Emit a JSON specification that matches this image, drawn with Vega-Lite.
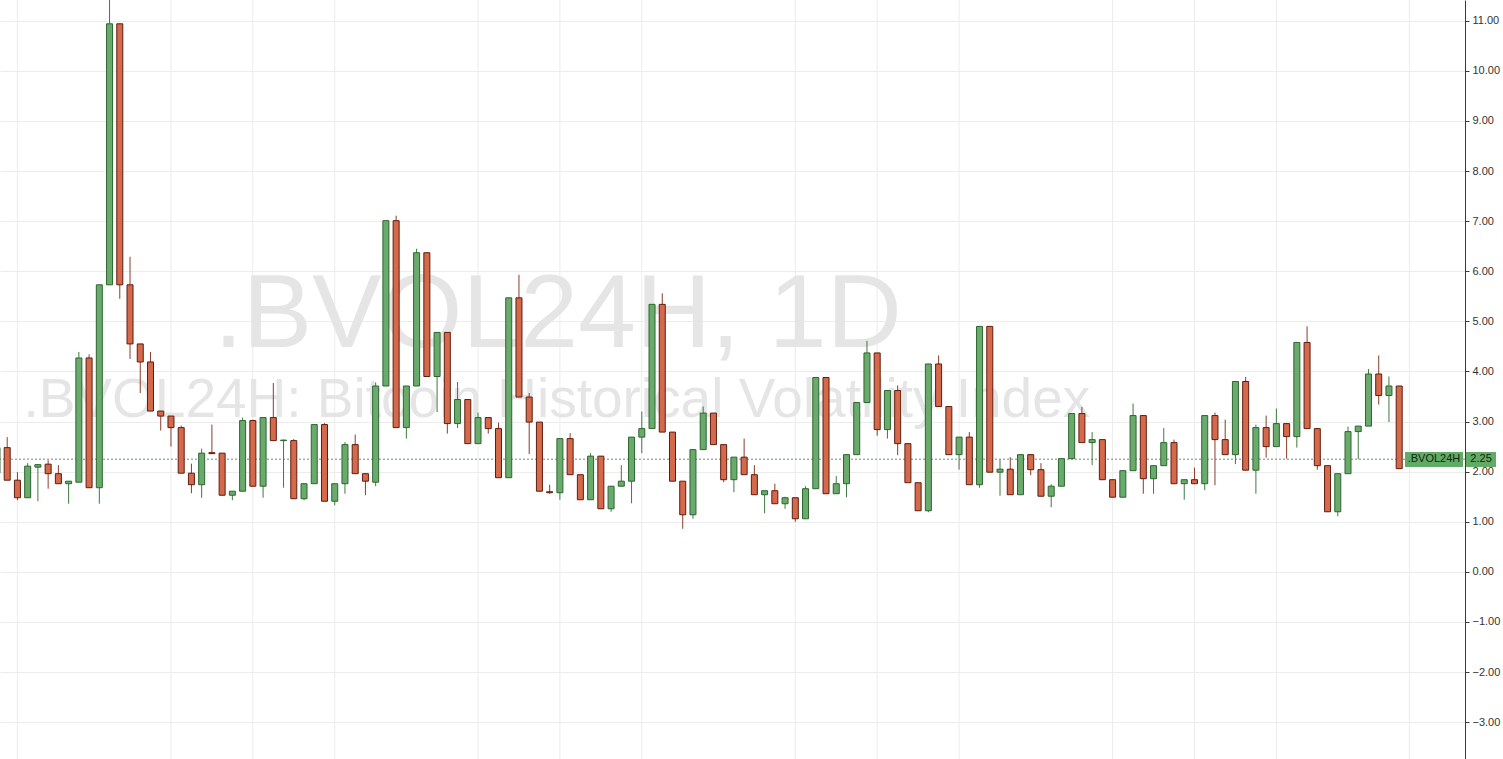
{
  "$schema": "https://vega.github.io/schema/vega-lite/v6.json",
  "width": 1465,
  "height": 759,
  "autosize": {"type": "none"},
  "padding": {"left": 0, "top": 0, "right": 38, "bottom": 0},
  "background": "#ffffff",
  "config": {"view": {"stroke": null}, "font": "Liberation Sans"},
  "datasets": {
    "candles": [
      {"i":-1,"o":1.97,"h":2.50,"l":1.90,"c":2.48},
      {"i":0,"o":2.48,"h":2.69,"l":1.83,"c":1.83},
      {"i":1,"o":1.83,"h":1.99,"l":1.43,"c":1.48},
      {"i":2,"o":1.48,"h":2.17,"l":1.48,"c":2.11},
      {"i":3,"o":2.09,"h":2.15,"l":1.41,"c":2.14},
      {"i":4,"o":2.15,"h":2.23,"l":1.66,"c":1.96},
      {"i":5,"o":1.96,"h":2.13,"l":1.76,"c":1.76},
      {"i":6,"o":1.76,"h":1.81,"l":1.36,"c":1.81},
      {"i":7,"o":1.79,"h":4.39,"l":1.79,"c":4.27},
      {"i":8,"o":4.27,"h":4.34,"l":1.68,"c":1.68},
      {"i":9,"o":1.68,"h":5.73,"l":1.36,"c":5.73},
      {"i":10,"o":5.73,"h":11.45,"l":5.73,"c":10.94},
      {"i":11,"o":10.94,"h":10.94,"l":5.45,"c":5.73},
      {"i":12,"o":5.73,"h":6.29,"l":4.25,"c":4.55},
      {"i":13,"o":4.55,"h":4.55,"l":3.57,"c":4.19},
      {"i":14,"o":4.19,"h":4.39,"l":3.21,"c":3.21},
      {"i":15,"o":3.21,"h":3.21,"l":2.82,"c":3.11},
      {"i":16,"o":3.11,"h":3.11,"l":2.50,"c":2.88},
      {"i":17,"o":2.88,"h":2.92,"l":1.97,"c":1.97},
      {"i":18,"o":1.97,"h":2.16,"l":1.57,"c":1.74},
      {"i":19,"o":1.74,"h":2.46,"l":1.48,"c":2.37},
      {"i":20,"o":2.38,"h":2.94,"l":2.36,"c":2.36},
      {"i":21,"o":2.37,"h":2.37,"l":1.53,"c":1.53},
      {"i":22,"o":1.53,"h":1.61,"l":1.43,"c":1.61},
      {"i":23,"o":1.61,"h":3.08,"l":1.61,"c":3.02},
      {"i":24,"o":3.02,"h":3.04,"l":1.71,"c":1.71},
      {"i":25,"o":1.71,"h":3.08,"l":1.48,"c":3.08},
      {"i":26,"o":3.08,"h":3.77,"l":2.62,"c":2.62},
      {"i":27,"o":2.62,"h":2.64,"l":1.68,"c":2.63},
      {"i":28,"o":2.62,"h":2.65,"l":1.46,"c":1.46},
      {"i":29,"o":1.46,"h":1.76,"l":1.43,"c":1.76},
      {"i":30,"o":1.76,"h":2.94,"l":1.76,"c":2.94},
      {"i":31,"o":2.94,"h":2.97,"l":1.41,"c":1.41},
      {"i":32,"o":1.41,"h":1.76,"l":1.33,"c":1.76},
      {"i":33,"o":1.76,"h":2.59,"l":1.56,"c":2.54},
      {"i":34,"o":2.54,"h":2.74,"l":1.96,"c":1.96},
      {"i":35,"o":1.96,"h":1.96,"l":1.53,"c":1.81},
      {"i":36,"o":1.79,"h":3.78,"l":1.71,"c":3.71},
      {"i":37,"o":3.71,"h":7.01,"l":3.71,"c":7.01},
      {"i":38,"o":7.01,"h":7.11,"l":2.88,"c":2.88},
      {"i":39,"o":2.88,"h":3.71,"l":2.66,"c":3.71},
      {"i":40,"o":3.71,"h":6.45,"l":3.71,"c":6.37},
      {"i":41,"o":6.37,"h":6.37,"l":3.90,"c":3.90},
      {"i":42,"o":3.90,"h":4.78,"l":3.19,"c":4.78},
      {"i":43,"o":4.78,"h":4.78,"l":2.76,"c":2.96},
      {"i":44,"o":2.96,"h":3.79,"l":2.87,"c":3.44},
      {"i":45,"o":3.44,"h":3.44,"l":2.56,"c":2.56},
      {"i":46,"o":2.56,"h":3.18,"l":2.56,"c":3.08},
      {"i":47,"o":3.08,"h":3.08,"l":2.76,"c":2.86},
      {"i":48,"o":2.86,"h":2.98,"l":1.88,"c":1.88},
      {"i":49,"o":1.88,"h":5.47,"l":1.88,"c":5.47},
      {"i":50,"o":5.47,"h":5.93,"l":3.49,"c":3.49},
      {"i":51,"o":3.49,"h":3.57,"l":2.35,"c":2.99},
      {"i":52,"o":2.99,"h":2.99,"l":1.61,"c":1.61},
      {"i":53,"o":1.60,"h":1.74,"l":1.56,"c":1.58},
      {"i":54,"o":1.58,"h":2.66,"l":1.44,"c":2.66},
      {"i":55,"o":2.66,"h":2.77,"l":1.94,"c":1.94},
      {"i":56,"o":1.94,"h":1.94,"l":1.44,"c":1.44},
      {"i":57,"o":1.44,"h":2.37,"l":1.44,"c":2.31},
      {"i":58,"o":2.31,"h":2.31,"l":1.26,"c":1.26},
      {"i":59,"o":1.26,"h":1.71,"l":1.20,"c":1.71},
      {"i":60,"o":1.71,"h":2.13,"l":1.71,"c":1.81},
      {"i":61,"o":1.81,"h":2.69,"l":1.37,"c":2.69},
      {"i":62,"o":2.69,"h":3.20,"l":2.37,"c":2.86},
      {"i":63,"o":2.86,"h":5.34,"l":2.86,"c":5.34},
      {"i":64,"o":5.34,"h":5.56,"l":2.79,"c":2.79},
      {"i":65,"o":2.79,"h":2.79,"l":1.81,"c":1.81},
      {"i":66,"o":1.81,"h":1.81,"l":0.86,"c":1.14},
      {"i":67,"o":1.14,"h":2.44,"l":1.06,"c":2.44},
      {"i":68,"o":2.44,"h":3.30,"l":2.44,"c":3.17},
      {"i":69,"o":3.17,"h":3.17,"l":2.54,"c":2.54},
      {"i":70,"o":2.54,"h":2.54,"l":1.79,"c":1.84},
      {"i":71,"o":1.84,"h":2.29,"l":1.59,"c":2.29},
      {"i":72,"o":2.29,"h":2.66,"l":1.94,"c":1.94},
      {"i":73,"o":1.94,"h":2.13,"l":1.54,"c":1.54},
      {"i":74,"o":1.54,"h":1.62,"l":1.17,"c":1.62},
      {"i":75,"o":1.62,"h":1.76,"l":1.36,"c":1.36},
      {"i":76,"o":1.36,"h":1.50,"l":1.26,"c":1.48},
      {"i":77,"o":1.48,"h":1.48,"l":1.00,"c":1.06},
      {"i":78,"o":1.06,"h":1.71,"l":1.06,"c":1.66},
      {"i":79,"o":1.66,"h":3.88,"l":1.66,"c":3.88},
      {"i":80,"o":3.88,"h":3.88,"l":1.56,"c":1.56},
      {"i":81,"o":1.56,"h":1.91,"l":1.56,"c":1.76},
      {"i":82,"o":1.76,"h":2.34,"l":1.49,"c":2.34},
      {"i":83,"o":2.34,"h":3.38,"l":2.34,"c":3.38},
      {"i":84,"o":3.38,"h":4.61,"l":3.38,"c":4.37},
      {"i":85,"o":4.37,"h":4.37,"l":2.72,"c":2.84},
      {"i":86,"o":2.84,"h":3.62,"l":2.66,"c":3.62},
      {"i":87,"o":3.62,"h":3.72,"l":2.33,"c":2.56},
      {"i":88,"o":2.56,"h":2.56,"l":1.78,"c":1.78},
      {"i":89,"o":1.78,"h":1.78,"l":1.22,"c":1.22},
      {"i":90,"o":1.22,"h":4.15,"l":1.19,"c":4.15},
      {"i":91,"o":4.15,"h":4.32,"l":3.30,"c":3.30},
      {"i":92,"o":3.30,"h":3.30,"l":2.34,"c":2.34},
      {"i":93,"o":2.34,"h":2.69,"l":2.04,"c":2.69},
      {"i":94,"o":2.69,"h":2.79,"l":1.74,"c":1.74},
      {"i":95,"o":1.74,"h":4.90,"l":1.68,"c":4.90},
      {"i":96,"o":4.90,"h":4.90,"l":1.99,"c":1.99},
      {"i":97,"o":1.99,"h":2.24,"l":1.52,"c":2.05},
      {"i":98,"o":2.05,"h":2.29,"l":1.54,"c":1.54},
      {"i":99,"o":1.54,"h":2.34,"l":1.54,"c":2.34},
      {"i":100,"o":2.34,"h":2.34,"l":1.93,"c":2.04},
      {"i":101,"o":2.04,"h":2.17,"l":1.51,"c":1.51},
      {"i":102,"o":1.51,"h":1.75,"l":1.29,"c":1.71},
      {"i":103,"o":1.71,"h":2.26,"l":1.71,"c":2.26},
      {"i":104,"o":2.26,"h":3.16,"l":2.26,"c":3.16},
      {"i":105,"o":3.16,"h":3.29,"l":2.58,"c":2.58},
      {"i":106,"o":2.58,"h":2.79,"l":2.13,"c":2.64},
      {"i":107,"o":2.64,"h":2.64,"l":1.84,"c":1.84},
      {"i":108,"o":1.84,"h":1.84,"l":1.49,"c":1.49},
      {"i":109,"o":1.49,"h":2.02,"l":1.49,"c":2.02},
      {"i":110,"o":2.02,"h":3.36,"l":2.02,"c":3.12},
      {"i":111,"o":3.12,"h":3.12,"l":1.56,"c":1.86},
      {"i":112,"o":1.86,"h":2.12,"l":1.56,"c":2.12},
      {"i":113,"o":2.12,"h":2.87,"l":2.12,"c":2.58},
      {"i":114,"o":2.58,"h":2.64,"l":1.76,"c":1.76},
      {"i":115,"o":1.76,"h":1.84,"l":1.44,"c":1.84},
      {"i":116,"o":1.84,"h":2.08,"l":1.76,"c":1.76},
      {"i":117,"o":1.76,"h":3.12,"l":1.63,"c":3.12},
      {"i":118,"o":3.12,"h":3.18,"l":1.73,"c":2.64},
      {"i":119,"o":2.64,"h":3.04,"l":2.34,"c":2.34},
      {"i":120,"o":2.34,"h":3.80,"l":2.15,"c":3.80},
      {"i":121,"o":3.80,"h":3.89,"l":2.03,"c":2.03},
      {"i":122,"o":2.03,"h":2.94,"l":1.56,"c":2.88},
      {"i":123,"o":2.88,"h":3.12,"l":2.28,"c":2.50},
      {"i":124,"o":2.50,"h":3.26,"l":2.50,"c":2.96},
      {"i":125,"o":2.96,"h":2.96,"l":2.26,"c":2.70},
      {"i":126,"o":2.70,"h":4.58,"l":2.48,"c":4.58},
      {"i":127,"o":4.58,"h":4.90,"l":2.86,"c":2.86},
      {"i":128,"o":2.86,"h":2.86,"l":2.04,"c":2.12},
      {"i":129,"o":2.12,"h":2.12,"l":1.20,"c":1.20},
      {"i":130,"o":1.20,"h":1.96,"l":1.11,"c":1.96},
      {"i":131,"o":1.96,"h":2.90,"l":1.96,"c":2.80},
      {"i":132,"o":2.80,"h":2.91,"l":2.25,"c":2.91},
      {"i":133,"o":2.91,"h":4.05,"l":2.91,"c":3.95},
      {"i":134,"o":3.95,"h":4.32,"l":3.34,"c":3.52},
      {"i":135,"o":3.52,"h":3.90,"l":2.99,"c":3.71},
      {"i":136,"o":3.71,"h":3.71,"l":2.06,"c":2.06}
    ],
    "vgrid": [
      {"g":1},{"g":16},{"g":24},{"g":32},{"g":46},{"g":54},{"g":62},
      {"g":77},{"g":85},{"g":93},{"g":108},{"g":116},{"g":124},{"g":137}
    ]
  },
  "layer": [
    {
      "data": {"name": "vgrid"},
      "mark": {"type": "rule", "color": "#ececec", "strokeWidth": 1},
      "encoding": {
        "x": {"field": "g", "type": "quantitative", "scale": {"domain": [-0.7035, 142.43], "nice": false, "zero": false, "padding": 0}, "axis": null}
      }
    },
    {
      "data": {"values": [{"label": ".BVOL24H, 1D"}]},
      "mark": {"type": "text", "fontSize": 104, "color": "#e5e5e5", "align": "center", "baseline": "alphabetic", "font": "Liberation Sans"},
      "encoding": {
        "text": {"field": "label"},
        "x": {"datum": 53.8, "type": "quantitative", "scale": {"domain": [-0.7035, 142.43], "nice": false, "zero": false, "padding": 0}, "axis": null},
        "y": {"datum": 4.49, "type": "quantitative", "scale": {"domain": [-3.735, 11.415], "nice": false, "zero": false}, "axis": {"orient": "right", "values": [-3,-2,-1,0,1,2,3,4,5,6,7,8,9,10,11], "format": ".2f", "title": null, "grid": true, "gridColor": "#ececec", "domainColor": "#3a3a3a", "tickColor": "#3a3a3a", "tickSize": 4, "labelFontSize": 11, "labelColor": "#333333", "labelPadding": 3, "labelFont": "Liberation Sans"}}
      }
    },
    {
      "data": {"values": [{"label": ".BVOL24H: Bitcoin Historical Volatility Index"}]},
      "mark": {"type": "text", "fontSize": 55, "color": "#e5e5e5", "align": "center", "baseline": "alphabetic", "font": "Liberation Sans"},
      "encoding": {
        "text": {"field": "label"},
        "x": {"datum": 53.7, "type": "quantitative"},
        "y": {"datum": 3.098, "type": "quantitative"}
      }
    },
    {
      "data": {"values": [{"v": 2.25}]},
      "mark": {"type": "rule", "color": "#6f8f70", "strokeWidth": 1, "strokeDash": [2, 2]},
      "encoding": {
        "y": {"field": "v", "type": "quantitative"}
      }
    },
    {
      "data": {"name": "candles"},
      "mark": {"type": "rule", "strokeWidth": 1, "clip": true},
      "encoding": {
        "x": {"field": "i", "type": "quantitative"},
        "y": {"field": "l", "type": "quantitative"},
        "y2": {"field": "h"},
        "color": {"condition": {"test": "datum.c >= datum.o", "value": "#3d7a41"}, "value": "#8a3d2b"}
      }
    },
    {
      "data": {"name": "candles"},
      "mark": {"type": "bar", "size": 6, "strokeWidth": 1, "clip": true},
      "encoding": {
        "x": {"field": "i", "type": "quantitative"},
        "y": {"field": "o", "type": "quantitative"},
        "y2": {"field": "c"},
        "fill": {"condition": {"test": "datum.c >= datum.o", "value": "#6aab6d"}, "value": "#d4694b"},
        "stroke": {"condition": {"test": "datum.c >= datum.o", "value": "#2c662f"}, "value": "#5e1d0e"}
      }
    },
    {
      "data": {"values": [{"a": 136.57, "b": 142.24, "t": 2.393, "u": 2.094}, {"a": 142.53, "b": 145.46, "t": 2.393, "u": 2.094}]},
      "mark": {"type": "rect", "color": "#62ab66", "clip": false},
      "encoding": {
        "x": {"field": "a", "type": "quantitative"},
        "x2": {"field": "b"},
        "y": {"field": "t", "type": "quantitative"},
        "y2": {"field": "u"}
      }
    },
    {
      "data": {"values": [{"label": ".BVOL24H", "p": 139.4}, {"label": "2.25", "p": 144.0}]},
      "mark": {"type": "text", "fontSize": 11, "color": "#10260f", "align": "center", "baseline": "middle", "font": "Liberation Sans", "clip": false},
      "encoding": {
        "text": {"field": "label"},
        "x": {"field": "p", "type": "quantitative"},
        "y": {"datum": 2.245, "type": "quantitative"}
      }
    }
  ]
}
